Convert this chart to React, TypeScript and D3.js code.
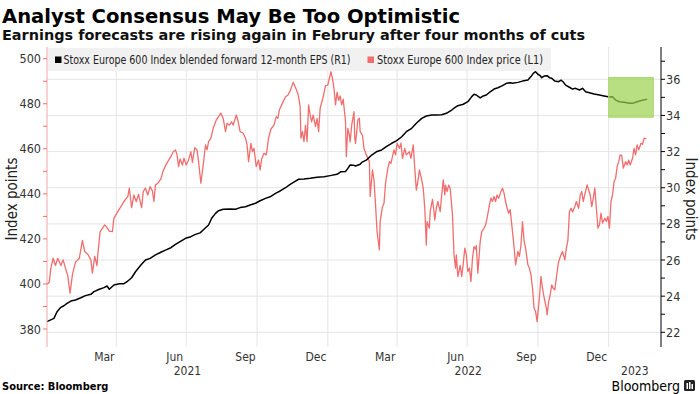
import React from "react";
import * as d3 from "d3";

// ---------- DATA ----------
const priceDates = [
  "2021-01-01","2021-01-04","2021-01-06","2021-01-09","2021-01-12","2021-01-15","2021-01-19","2021-01-22","2021-01-25","2021-01-28",
  "2021-01-31","2021-02-03","2021-02-07","2021-02-12","2021-02-16","2021-02-19","2021-02-23","2021-02-27","2021-03-01","2021-03-04",
  "2021-03-07","2021-03-08","2021-03-11","2021-03-14","2021-03-17","2021-03-20","2021-03-23","2021-03-27","2021-03-29","2021-04-03",
  "2021-04-07","2021-04-11","2021-04-16","2021-04-18","2021-04-21","2021-04-24","2021-04-27","2021-04-30","2021-05-04","2021-05-06",
  "2021-05-09","2021-05-12","2021-05-15","2021-05-18","2021-05-20","2021-05-22","2021-05-25","2021-05-29","2021-06-01","2021-06-04",
  "2021-06-07","2021-06-11","2021-06-14","2021-06-17","2021-06-19","2021-06-21","2021-06-23","2021-06-26","2021-06-28","2021-07-01",
  "2021-07-04","2021-07-07","2021-07-09","2021-07-12","2021-07-15","2021-07-17","2021-07-20","2021-07-23","2021-07-26","2021-07-28",
  "2021-07-30","2021-08-02","2021-08-05","2021-08-09","2021-08-12","2021-08-15","2021-08-18","2021-08-21","2021-08-23","2021-08-26",
  "2021-08-29","2021-08-31","2021-09-04","2021-09-06","2021-09-09","2021-09-13","2021-09-16","2021-09-18","2021-09-20","2021-09-23",
  "2021-09-25","2021-09-27","2021-09-30","2021-10-03","2021-10-05","2021-10-07","2021-10-10","2021-10-13","2021-10-16","2021-10-19",
  "2021-10-23","2021-10-26","2021-10-28","2021-10-30","2021-11-02","2021-11-07","2021-11-10","2021-11-13","2021-11-17","2021-11-20",
  "2021-11-23","2021-11-25","2021-11-26","2021-11-27","2021-11-29","2021-12-01","2021-12-03","2021-12-05","2021-12-07","2021-12-09",
  "2021-12-11","2021-12-13","2021-12-16","2021-12-18","2021-12-20","2021-12-22","2021-12-26","2021-12-29","2022-01-01","2022-01-02",
  "2022-01-05","2022-01-07","2022-01-09","2022-01-11","2022-01-13","2022-01-15","2022-01-17","2022-01-19","2022-01-21","2022-01-24",
  "2022-01-25","2022-01-27","2022-01-29","2022-01-30","2022-02-01","2022-02-04","2022-02-05","2022-02-06","2022-02-09","2022-02-11",
  "2022-02-12","2022-02-15","2022-02-17","2022-02-20","2022-02-24","2022-02-25","2022-02-28","2022-03-02","2022-03-04","2022-03-06",
  "2022-03-09","2022-03-10","2022-03-13","2022-03-15","2022-03-17","2022-03-20","2022-03-22","2022-03-24","2022-03-28","2022-03-30",
  "2022-04-01","2022-04-04","2022-04-06","2022-04-08","2022-04-11","2022-04-13","2022-04-17","2022-04-19","2022-04-22","2022-04-24",
  "2022-04-26","2022-04-28","2022-04-30","2022-05-03","2022-05-05","2022-05-07","2022-05-09","2022-05-10","2022-05-13","2022-05-14",
  "2022-05-17","2022-05-19","2022-05-20","2022-05-22","2022-05-24","2022-05-27","2022-05-29","2022-05-31","2022-06-02","2022-06-03",
  "2022-06-05","2022-06-07","2022-06-09","2022-06-12","2022-06-14","2022-06-16","2022-06-17","2022-06-19","2022-06-22","2022-06-24",
  "2022-06-26","2022-06-28","2022-06-30","2022-07-02","2022-07-04","2022-07-06","2022-07-08","2022-07-10","2022-07-12","2022-07-13",
  "2022-07-15","2022-07-18","2022-07-20","2022-07-23","2022-07-25","2022-07-27","2022-07-30","2022-08-01","2022-08-03","2022-08-05",
  "2022-08-07","2022-08-09","2022-08-11","2022-08-14","2022-08-16","2022-08-18","2022-08-20","2022-08-22","2022-08-24","2022-08-26",
  "2022-08-29","2022-08-31","2022-09-02","2022-09-05","2022-09-07","2022-09-09","2022-09-11","2022-09-13","2022-09-15","2022-09-18",
  "2022-09-20","2022-09-22","2022-09-24","2022-09-26","2022-09-28","2022-09-30","2022-10-03","2022-10-05","2022-10-07","2022-10-09",
  "2022-10-12","2022-10-13","2022-10-15","2022-10-17","2022-10-19","2022-10-21","2022-10-23","2022-10-26","2022-10-28","2022-10-31",
  "2022-11-02","2022-11-05","2022-11-07","2022-11-09","2022-11-11","2022-11-13","2022-11-15","2022-11-18","2022-11-20","2022-11-23",
  "2022-11-25","2022-11-27","2022-11-29","2022-12-01","2022-12-04","2022-12-06","2022-12-08","2022-12-10","2022-12-12","2022-12-14",
  "2022-12-16","2022-12-18","2022-12-20","2022-12-22","2022-12-24","2022-12-27","2022-12-29","2022-12-31","2023-01-02","2023-01-04",
  "2023-01-06","2023-01-08","2023-01-10","2023-01-12","2023-01-14","2023-01-16","2023-01-18","2023-01-20","2023-01-23","2023-01-25",
  "2023-01-27","2023-01-29","2023-02-01","2023-02-03","2023-02-05","2023-02-07","2023-02-09","2023-02-12","2023-02-14","2023-02-16",
  "2023-02-19",
];
const priceValues = [
  399.9,400.8,407,411.4,408.2,411.4,408.2,410.7,407,403.7,
  395.9,404,409.7,411.4,419.3,414.4,413.2,410.7,404.8,412.2,
  408.2,412.9,423.2,424.7,426.2,425,423.5,423.2,429.2,432.1,
  434.3,436.6,438.8,442.5,433.9,439.5,436.6,439.8,433.9,441,
  442.5,439.5,443.2,441.3,436.6,444,444.7,446.6,450.2,452.5,
  454.3,456.5,458.7,459.5,457.3,452.1,455.5,452.8,455.8,452.8,
  455,458.7,454,460.5,459.5,454.3,444.7,452.8,461.7,459.5,
  463.2,464.7,469.1,472.8,474.3,475.8,473.5,467.6,471.3,470.5,
  472,470.5,475,472.8,467.6,466.9,464.7,461.7,454.3,462.4,
  458.7,460.2,452.1,455,450.6,455.5,458,457.3,464.7,468.8,
  470.5,474.3,473.5,477.2,479.5,483.1,483.8,485.7,489.5,487.2,
  484.6,480.9,478.7,464.7,467.6,463.2,470.5,463.2,479.5,475,
  472,475,469.9,473.5,467.6,478,483.1,488,488.3,489.8,
  494.2,491.3,486.7,479.5,485.2,481.5,483.5,479.5,482,472,
  456.5,469.1,466.1,463,470.5,476.5,464.7,462.4,472.8,473.6,
  467.6,466,460.2,457.3,454.3,438.8,450.6,446.1,435.1,423.2,
  415.1,427.7,434.3,435.8,444.7,451.4,454.3,453.5,459.5,457.3,
  462.5,460.2,462.5,455.8,460.2,457.3,458.7,455.8,461.7,451.4,
  441.7,445.4,450.6,446.1,442.5,433.6,417.3,427.7,424.8,432.1,
  437.5,432.1,428.4,433.6,436.6,432.1,439.5,446.2,439.5,443.9,
  441,443.9,442.5,430.7,412.9,407,412.9,403.3,408.2,403.3,
  409,415.9,412.9,405.5,407,401.1,411.4,416.6,415.5,417,
  404.8,418.8,423.2,424.7,426.2,429.2,435.1,438.1,436.6,438.8,
  436.6,439.5,438,441,442.5,440.3,436.6,433.6,431.4,433,
  423.2,416.6,408.5,414.4,412.2,417.3,427.7,419.3,415.9,408.5,
  407,404,398.1,389.3,387.8,383.3,394.1,403.3,398.1,394.1,
  389.3,386.3,392.2,395.2,399.6,398,397.4,405.5,410,412.9,
  414.4,410.7,415.9,419.3,432.1,433.6,432,434.3,436.6,433.6,
  439.5,441,436.6,439.8,444,441.7,439.5,434.3,438.1,442.5,
  433.6,424.8,426.2,431.4,427,429.2,427.7,430,424.8,436.6,
  439.5,445.4,446.9,452.1,454.3,457.3,457,451.4,454.3,452.8,
  455,452.8,455.8,460.2,457.3,461.7,459.5,462.5,462,464.7,
  464.4,
];

const epsDates = [
  "2021-01-01","2021-01-10","2021-01-14","2021-01-19","2021-01-23","2021-01-27","2021-02-01","2021-02-07","2021-02-14","2021-02-20",
  "2021-02-27","2021-03-03","2021-03-10","2021-03-16","2021-03-20","2021-03-23","2021-03-29","2021-04-05","2021-04-11","2021-04-15",
  "2021-04-21","2021-04-26","2021-05-03","2021-05-09","2021-05-15","2021-05-22","2021-05-29","2021-06-04","2021-06-11","2021-06-17",
  "2021-06-24","2021-06-30","2021-07-07","2021-07-13","2021-07-19","2021-07-23","2021-07-30","2021-08-03","2021-08-08","2021-08-12",
  "2021-08-18","2021-08-27","2021-09-03","2021-09-09","2021-09-16","2021-09-22","2021-09-29","2021-10-05","2021-10-12","2021-10-18",
  "2021-10-25","2021-10-31","2021-11-07","2021-11-13","2021-11-20","2021-11-24","2021-12-01","2021-12-09","2021-12-18","2021-12-27",
  "2022-01-04","2022-01-13","2022-01-18","2022-01-24","2022-01-27","2022-01-30","2022-02-03","2022-02-06","2022-02-12","2022-02-14",
  "2022-02-20","2022-02-27","2022-03-05","2022-03-12","2022-03-18","2022-03-25","2022-03-31","2022-04-07","2022-04-13","2022-04-20",
  "2022-04-26","2022-05-03","2022-05-09","2022-05-16","2022-05-22","2022-05-29","2022-06-04","2022-06-11","2022-06-15","2022-06-19",
  "2022-06-26","2022-07-02","2022-07-07","2022-07-10","2022-07-13","2022-07-18","2022-07-22","2022-07-26","2022-07-31","2022-08-05",
  "2022-08-10","2022-08-16","2022-08-21","2022-08-26","2022-08-29","2022-09-05","2022-09-11","2022-09-18","2022-09-22","2022-09-25",
  "2022-09-28","2022-10-01","2022-10-04","2022-10-06","2022-10-09","2022-10-13","2022-10-16","2022-10-19","2022-10-23","2022-10-28",
  "2022-10-31","2022-11-03","2022-11-06","2022-11-11","2022-11-15","2022-11-19","2022-11-24","2022-11-28","2022-12-02","2022-12-07",
  "2022-12-13","2022-12-20","2022-12-26","2023-01-02","2023-01-06","2023-01-10","2023-01-15","2023-01-21","2023-01-28","2023-02-01",
  "2023-02-05","2023-02-10","2023-02-15","2023-02-20",
];
const epsValues = [
  22.59,22.77,23.14,23.38,23.47,23.6,23.73,23.79,23.91,24.03,
  24.1,24.25,24.38,24.47,24.56,24.38,24.62,24.69,24.69,24.8,
  25.02,25.35,25.72,26,26.09,26.28,26.43,26.55,26.68,26.87,
  27.05,27.2,27.29,27.42,27.5,27.66,27.94,28.31,28.58,28.73,
  28.81,28.82,28.81,28.9,28.95,29.04,29.14,29.28,29.41,29.5,
  29.69,29.82,30,30.19,30.37,30.47,30.48,30.52,30.58,30.61,
  30.67,30.74,30.89,30.9,31.07,31.26,31.25,31.2,31.3,31.4,
  31.53,31.81,31.99,32.09,32.27,32.46,32.59,32.82,33.1,33.29,
  33.57,33.84,33.97,34.02,34.02,34.04,34.12,34.3,34.43,34.54,
  34.62,34.76,35.04,35.17,35.13,34.97,35.08,35.13,35.31,35.46,
  35.53,35.65,35.78,35.81,35.78,35.83,35.9,35.96,36.15,36.33,
  36.42,36.28,36.2,36.09,36.18,36.2,36.09,36.06,35.9,35.87,
  35.95,35.85,35.68,35.56,35.46,35.5,35.41,35.5,35.31,35.26,
  35.19,35.13,35.08,35.02,35.04,34.85,34.76,34.73,34.67,34.67,
  34.73,34.8,34.85,34.89,
];

const leftTicks = [380, 390, 400, 410, 420, 430, 440, 450, 460, 470, 480, 490, 500];
const leftLabels = [380, 400, 420, 440, 460, 480, 500];
const rightTicks = [22, 23, 24, 25, 26, 27, 28, 29, 30, 31, 32, 33, 34, 35, 36, 37];
const rightLabels = [22, 24, 26, 28, 30, 32, 34, 36];
const gridDates = ["2021-04-01","2021-07-01","2021-10-01","2022-01-01","2022-04-01","2022-07-01","2022-10-01","2023-01-01"];
const monthLabels = [
  { m: "2021-03", t: "Mar" }, { m: "2021-06", t: "Jun" }, { m: "2021-09", t: "Sep" }, { m: "2021-12", t: "Dec" },
  { m: "2022-03", t: "Mar" }, { m: "2022-06", t: "Jun" }, { m: "2022-09", t: "Sep" }, { m: "2022-12", t: "Dec" },
];
const yearLabels = ["2021", "2022", "2023"];
const highlight = { start: "2023-01-01", end: "2023-02-28", top: 36.1, bottom: 33.9 };

const title = "Analyst Consensus May Be Too Optimistic";
const subtitle = "Earnings forecasts are rising again in Februry after four months of cuts";
const epsName = "Stoxx Europe 600 Index blended forward 12-month EPS (R1)";
const priceName = "Stoxx Europe 600 Index price (L1)";

// ---------- LAYOUT ----------
const W = 700, H = 394;
const PL = 47, PR = 661, PT = 47, PB = 347;
const FONT = "'DejaVu Sans Condensed', 'DejaVu Sans', sans-serif";
const RED = "#f26d6d";

const parse = d3.utcParse("%Y-%m-%d");
const x = d3.scaleUtc().domain([parse("2021-01-01")!, parse("2023-03-10")!]).range([PL, PR]);
const yL = d3.scaleLinear().domain([380, 500]).range([329, 58.7]);
const yR = d3.scaleLinear().domain([22, 36]).range([332.3, 79.3]);

export default function App() {
  const price = priceDates.map((d, i) => ({ d: parse(d)!, v: priceValues[i] }));
  const eps = epsDates.map((d, i) => ({ d: parse(d)!, v: epsValues[i] }));
  const priceLine = d3.line<{ d: Date; v: number }>().x((p) => x(p.d)).y((p) => yL(p.v));
  const epsLine = d3.line<{ d: Date; v: number }>().x((p) => x(p.d)).y((p) => yR(p.v));

  const midMonth = (m: string) => {
    const s = parse(m + "-01")!;
    const e = d3.utcMonth.offset(s, 1);
    return (x(s) + x(e)) / 2;
  };
  const yearCenter = (y: string) => {
    const s = Math.max(x(parse(y + "-01-01")!), PL);
    const e = Math.min(x(parse(`${+y + 1}-01-01`)!), PR);
    return (s + e) / 2;
  };

  return (
    <svg width={W} height={H} style={{ position: "fixed", left: 0, top: 0, background: "#fff" }} fontFamily={FONT}>
      <rect x={0} y={0} width={W} height={H} fill="#fff" />
      <text x={2} y={23} fontSize={20} fontWeight="bold" fill="#000" textLength={458} lengthAdjust="spacingAndGlyphs">{title}</text>
      <text x={2} y={40} fontSize={14.5} fontWeight="bold" fill="#111" textLength={583} lengthAdjust="spacingAndGlyphs">{subtitle}</text>

      {/* grid */}
      {rightLabels.map((v) => (
        <line key={"h" + v} x1={PL} x2={PR} y1={yR(v)} y2={yR(v)} stroke="#e4e4e4" strokeWidth={1} />
      ))}
      {gridDates.map((d) => (
        <line key={"v" + d} x1={x(parse(d)!)} x2={x(parse(d)!)} y1={PT} y2={PB} stroke="#e4e4e4" strokeWidth={1} />
      ))}

      {/* legend band */}
      <rect x={PL + 1} y={48} width={503} height={23} fill="#f1f1f1" />
      <rect x={55} y={56.5} width={6.5} height={6.5} fill="#000" />
      <text x={63.5} y={64} fontSize={11.5} fill="#222" textLength={287} lengthAdjust="spacingAndGlyphs">{epsName}</text>
      <rect x={367.5} y={56.5} width={6.5} height={6.5} fill={RED} />
      <text x={377} y={64} fontSize={11.5} fill="#222" textLength={166} lengthAdjust="spacingAndGlyphs">{priceName}</text>

      {/* lines */}
      <path d={priceLine(price) || ""} fill="none" stroke={RED} strokeWidth={1.3} strokeLinejoin="round" />
      <path d={epsLine(eps) || ""} fill="none" stroke="#000" strokeWidth={1.5} strokeLinejoin="round" />

      {/* highlight box */}
      <rect
        x={x(parse(highlight.start)!)}
        y={yR(highlight.top)}
        width={x(parse(highlight.end)!) - x(parse(highlight.start)!)}
        height={yR(highlight.bottom) - yR(highlight.top)}
        fill="#9bd24f"
        fillOpacity={0.7}
        stroke="#a9d96c"
        strokeWidth={1}
      />

      {/* left axis */}
      <line x1={PL} x2={PL} y1={PT} y2={PB} stroke="#f4a5a5" strokeWidth={1} />
      {leftTicks.map((v) => (
        <line key={"lt" + v} x1={PL - 4} x2={PL} y1={yL(v)} y2={yL(v)} stroke={RED} strokeWidth={1} />
      ))}
      {leftLabels.map((v) => (
        <text key={"ll" + v} x={41} y={yL(v) + 4.5} fontSize={12.5} textAnchor="end" fill="#333">{v}</text>
      ))}
      <text transform={`translate(17,${(PT + PB) / 2 + 2}) rotate(-90)`} textAnchor="middle" fontSize={15} fill="#222">Index points</text>

      {/* right axis */}
      <line x1={PR} x2={PR} y1={PT} y2={PB} stroke="#000" strokeWidth={1} />
      {rightTicks.map((v) => (
        <line key={"rt" + v} x1={PR} x2={PR + 4} y1={yR(v)} y2={yR(v)} stroke="#000" strokeWidth={1} />
      ))}
      {rightLabels.map((v) => (
        <text key={"rl" + v} x={666} y={yR(v) + 4.5} fontSize={12.5} fill="#333">{v}</text>
      ))}
      <text transform={`translate(686,${(PT + PB) / 2 + 2}) rotate(90)`} textAnchor="middle" fontSize={15} fill="#222">Index points</text>

      {/* x axis */}
      {monthLabels.map((m) => (
        <text key={m.m} x={midMonth(m.m)} y={361} fontSize={12} textAnchor="middle" fill="#333">{m.t}</text>
      ))}
      {yearLabels.map((y) => (
        <text key={y} x={yearCenter(y)} y={375} fontSize={12} textAnchor="middle" fill="#333">{y}</text>
      ))}

      {/* footer */}
      <text x={2} y={390} fontSize={11} fontWeight="bold" fill="#000">Source: Bloomberg</text>
      <text x={680} y={391} fontSize={14} textAnchor="end" fill="#000">Bloomberg</text>
      <rect x={684} y={380} width={11} height={11} rx={1.5} fill="#222" />
      <rect x={686.5} y={383} width={1.5} height={6} fill="#fff" />
      <rect x={689} y={382} width={1.5} height={7} fill="#fff" />
      <rect x={691.5} y={384} width={1.5} height={5} fill="#fff" />
    </svg>
  );
}
